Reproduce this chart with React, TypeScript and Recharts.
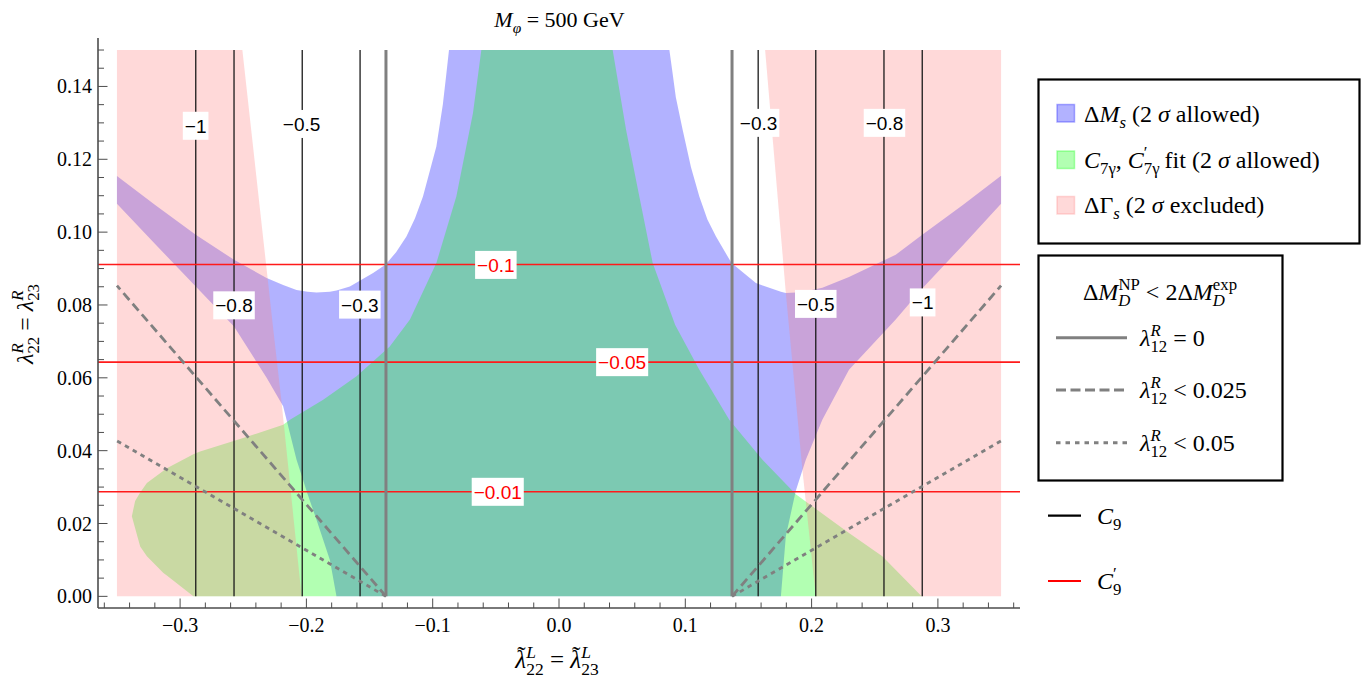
import React from "react";
import { ComposedChart, Area, Line, Scatter, XAxis, YAxis } from "recharts";

const W = 1365;
const H = 680;
const FRAME = "#4d4d4d";
const SERIF = "Liberation Serif, DejaVu Serif, Tinos, FreeSerif, Times New Roman, serif";
const SANS = "Liberation Sans, Arial, sans-serif";

// plot ranges
const xDomain = [-0.365, 0.365];
const yDomain = [-0.0032, 0.1533];
const regionY = [0, 0.15];

// Delta M_s (2 sigma allowed): band between inner and outer curve
const blueX = [
  -0.35, -0.32, -0.2876, -0.2573, -0.2315, -0.2184, -0.2078, -0.199, -0.192, -0.1814, -0.1762,
  -0.1656, -0.1472, -0.1372, -0.129, -0.1208, -0.114, -0.1077, -0.0971, -0.092, -0.0895, -0.0871,
  0.0874, 0.09, 0.0925, 0.0979, 0.1045, 0.1111, 0.1175, 0.1243, 0.1366, 0.1559, 0.1757, 0.1796,
  0.1875, 0.1954, 0.2085, 0.2296, 0.2666, 0.2876, 0.32, 0.35,
];
const blueLo = [
  0.1078, 0.0968, 0.0851, 0.0741, 0.06, 0.0522, 0.0375, 0.028, 0.021, 0.01, 0, 0, 0, 0, 0, 0, 0,
  0, 0, 0, 0, 0, 0, 0, 0, 0, 0, 0, 0, 0, 0, 0, 0, 0.0165, 0.029, 0.0375, 0.0485, 0.0622, 0.076,
  0.0845, 0.0965, 0.1078,
];
const blueHi = [
  0.1154, 0.1075, 0.0993, 0.0924, 0.0874, 0.0855, 0.0841, 0.0836, 0.0834, 0.0836, 0.084, 0.0851,
  0.0888, 0.0911, 0.0945, 0.0988, 0.1038, 0.1098, 0.1235, 0.135, 0.1425, 0.15, 0.15, 0.1435,
  0.137, 0.1281, 0.1178, 0.1098, 0.1035, 0.0988, 0.0915, 0.086, 0.0836, 0.0833, 0.0834, 0.0838,
  0.0847, 0.0877, 0.0938, 0.0993, 0.1075, 0.1155,
];

// C7gamma, C7gamma' fit (2 sigma allowed)
const greenX = [
  -0.3382, -0.3356, -0.3316, -0.3263, -0.3132, -0.3105, -0.2895, -0.2842, -0.2526, -0.2184,
  -0.213, -0.1867, -0.1603, -0.134, -0.118, -0.0971, -0.0813, -0.0681, -0.0615, 0.0425, 0.0531,
  0.0636, 0.0742, 0.092, 0.1111, 0.1348, 0.1611, 0.1875, 0.2296, 0.256, 0.2871,
];
const greenLo = [
  0.022, 0.0187, 0.0137, 0.011, 0.0064, 0.0057, 0, 0, 0, 0, 0, 0, 0, 0, 0, 0, 0, 0, 0, 0, 0, 0,
  0, 0, 0, 0, 0, 0, 0, 0, 0,
];
const greenHi = [
  0.022, 0.0262, 0.0285, 0.0311, 0.0345, 0.0352, 0.039, 0.0398, 0.0432, 0.0471, 0.0485, 0.054,
  0.0604, 0.0686, 0.076, 0.0915, 0.1098, 0.1327, 0.15, 0.15, 0.1281, 0.1098, 0.0915, 0.0745,
  0.0622, 0.0485, 0.0375, 0.028, 0.0174, 0.011, 0,
];

// Delta Gamma_s (2 sigma excluded), left and right pieces
const pinkLX = [-0.35, -0.2507, -0.2262, -0.2196, -0.2038];
const pinkLLo = [0, 0, 0, 0, 0];
const pinkLHi = [0.15, 0.15, 0.0732, 0.0531, 0];
const pinkRX = [0.1632, 0.1796, 0.1927, 0.2033, 0.35];
const pinkRLo = [0.15, 0.0833, 0.0348, 0, 0];
const pinkRHi = [0.15, 0.15, 0.15, 0.15, 0.15];

// C9 contours (vertical)
const c9X = [-0.2876, -0.2573, -0.2033, -0.1575, 0.1577, 0.2033, 0.2573, 0.2876];
const c9LabelX = [-0.2877, -0.2573, -0.2038, -0.1577, 0.158, 0.2577, 0.2033, 0.2879];
const c9LabelY = [0.1292, 0.0799, 0.1297, 0.0801, 0.13, 0.13, 0.0803, 0.0807];
const c9LabelText = ["\u22121", "\u22120.8", "\u22120.5", "\u22120.3", "\u22120.3", "\u22120.8", "\u22120.5", "\u22121"];

// C9' contours (horizontal)
const c9pY = [0.0911, 0.0643, 0.0287];
const c9pLabelX = [-0.05, 0.05, -0.0485];
const c9pLabelY = [0.091, 0.0643, 0.0287];
const c9pLabelText = ["\u22120.1", "\u22120.05", "\u22120.01"];

// Delta M_D bounds
const dmdStartX = [-0.137, 0.137];
const dmdEdgeX = [-0.35, 0.35];
const dashedEndY = 0.0853;
const dottedEndY = 0.0427;

const xTicks = [
  -0.36, -0.34, -0.32, -0.3, -0.28, -0.26, -0.24, -0.22, -0.2, -0.18, -0.16, -0.14, -0.12, -0.1,
  -0.08, -0.06, -0.04, -0.02, 0, 0.02, 0.04, 0.06, 0.08, 0.1, 0.12, 0.14, 0.16, 0.18, 0.2, 0.22,
  0.24, 0.26, 0.28, 0.3, 0.32, 0.34, 0.36,
];
const yTicks = [
  0, 0.005, 0.01, 0.015, 0.02, 0.025, 0.03, 0.035, 0.04, 0.045, 0.05, 0.055, 0.06, 0.065, 0.07,
  0.075, 0.08, 0.085, 0.09, 0.095, 0.1, 0.105, 0.11, 0.115, 0.12, 0.125, 0.13, 0.135, 0.14, 0.145,
  0.15,
];

const blueData = blueX.map((x, i) => ({ x, r: [blueLo[i], blueHi[i]] }));
const greenData = greenX.map((x, i) => ({ x, r: [greenLo[i], greenHi[i]] }));
const pinkLData = pinkLX.map((x, i) => ({ x, r: [pinkLLo[i], pinkLHi[i]] }));
const pinkRData = pinkRX.map((x, i) => ({ x, r: [pinkRLo[i], pinkRHi[i]] }));
const c9Labels = c9LabelX.map((x, i) => ({ x, y: c9LabelY[i], text: c9LabelText[i] }));
const c9pLabels = c9pLabelX.map((x, i) => ({ x, y: c9pLabelY[i], text: c9pLabelText[i] }));

const isMajor = (v: number, k: number) => Math.abs(Math.round(v * k) - v * k) < 1e-6;
const minus = (s: string) => s.replace("-", "\u2212");

// rough glyph widths (em)
const SERIF_W: Record<string, number> = {
  "0": 0.5, "1": 0.5, "2": 0.5, "3": 0.5, "7": 0.5, "9": 0.5, R: 0.61, L: 0.56, D: 0.72,
  N: 0.72, P: 0.56, e: 0.44, x: 0.5, p: 0.5, s: 0.39, "\u2032": 0.28, "\u03b3": 0.45, "\u03c6": 0.55,
};
const SANS_W: Record<string, number> = { "\u2212": 0.584, ".": 0.278 };
function tw(s: string, size: number, table: Record<string, number>, def: number) {
  let w = 0;
  for (const ch of s) w += table[ch] ?? def;
  return w * size;
}

type Seg = {
  t?: string;
  it?: boolean;
  acc?: string;
  sub?: string;
  sup?: string;
  subIt?: boolean;
  supIt?: boolean;
};

function Rich({ x, y, size, segs, anchor = "start", transform }: any) {
  const ss = size * 0.7;
  const subDy = size * 0.27;
  const supDy = size * 0.4;
  const out: any[] = [];
  let cur = 0;
  let pend = 0;
  (segs as Seg[]).forEach((s, i) => {
    if (s.t) {
      out.push(
        <tspan key={i + "t"} fontSize={size} fontStyle={s.it ? "italic" : "normal"} dy={-cur} dx={pend || undefined}>
          {s.t}
        </tspan>
      );
      cur = 0;
      pend = 0;
    }
    if (s.acc) {
      // accent drawn over the previous glyph
      out.push(
        <tspan key={i + "a"} fontSize={size} fontStyle="normal" dx={-0.36 * size} dy={-0.17 * size}>
          {s.acc}
        </tspan>
      );
      cur = -0.17 * size;
      pend = 0.03 * size;
    }
    if (s.sub && s.sup) {
      const wb = tw(s.sub, ss, SERIF_W, 0.5);
      const wp = tw(s.sup, ss, SERIF_W, 0.5);
      out.push(
        <tspan key={i + "b"} fontSize={ss} fontStyle={s.subIt ? "italic" : "normal"} dy={subDy - cur} dx={pend || undefined}>
          {s.sub}
        </tspan>
      );
      out.push(
        <tspan key={i + "p"} fontSize={ss} fontStyle={s.supIt ? "italic" : "normal"} dx={-wb} dy={-supDy - subDy}>
          {s.sup}
        </tspan>
      );
      cur = -supDy;
      pend = Math.max(0, wb - wp);
    } else if (s.sub) {
      out.push(
        <tspan key={i + "b"} fontSize={ss} fontStyle={s.subIt ? "italic" : "normal"} dy={subDy - cur} dx={pend || undefined}>
          {s.sub}
        </tspan>
      );
      cur = subDy;
      pend = 0;
    } else if (s.sup) {
      out.push(
        <tspan key={i + "p"} fontSize={ss} fontStyle={s.supIt ? "italic" : "normal"} dy={-supDy - cur} dx={pend || undefined}>
          {s.sup}
        </tspan>
      );
      cur = -supDy;
      pend = 0;
    }
  });
  return (
    <text x={x} y={y} textAnchor={anchor} fill="#000" transform={transform} style={{ whiteSpace: "pre", fontFamily: SERIF }}>
      {out}
    </text>
  );
}

function BottomTick(p: any) {
  const v = p.payload.value;
  const major = isMajor(v, 10);
  return (
    <g>
      <line x1={p.x} x2={p.x} y1={p.y} y2={p.y - (major ? 9.5 : 5.5)} stroke={FRAME} strokeWidth={1} />
      {major && (
        <text x={p.x} y={p.y + 24} textAnchor="middle" fontSize={20} fill="#000" style={{ fontFamily: SERIF }}>
          {minus(v.toFixed(1))}
        </text>
      )}
    </g>
  );
}
function TopTick(p: any) {
  const major = isMajor(p.payload.value, 10);
  return <line x1={p.x} x2={p.x} y1={p.y} y2={p.y + (major ? 9.5 : 5.5)} stroke={FRAME} strokeWidth={1} />;
}
function LeftTick(p: any) {
  const v = p.payload.value;
  const major = isMajor(v, 50);
  return (
    <g>
      <line x1={p.x} x2={p.x + (major ? 9.5 : 6)} y1={p.y} y2={p.y} stroke={FRAME} strokeWidth={1} />
      {major && (
        <text x={p.x - 6} y={p.y + 7} textAnchor="end" fontSize={20} fill="#000" style={{ fontFamily: SERIF }}>
          {v.toFixed(2)}
        </text>
      )}
    </g>
  );
}
function RightTick(p: any) {
  const major = isMajor(p.payload.value, 50);
  return <line x1={p.x} x2={p.x - (major ? 9.5 : 6)} y1={p.y} y2={p.y} stroke={FRAME} strokeWidth={1} />;
}

function boxLabel(color: string) {
  return (p: any) => {
    const text = p.payload.text;
    const w = tw(text, 19, SANS_W, 0.556) + 4;
    return (
      <g>
        <rect x={p.cx - w / 2} y={p.cy - 14} width={w} height={28} fill="#fff" />
        <text x={p.cx} y={p.cy + 7} textAnchor="middle" fontSize={19} fill={color} style={{ fontFamily: SANS }}>
          {text}
        </text>
      </g>
    );
  };
}

function Overlay() {
  const sw = (y: number, c: string) => (
    <rect x={1057} y={y} width={17.5} height={17.5} fill={c} fillOpacity={0.3} stroke={c} strokeOpacity={0.3} strokeWidth={1.5} />
  );
  const lam12 = { t: "\u03bb", it: true, sub: "12", sup: "R", supIt: true };
  return (
    <svg width={W} height={H} style={{ position: "absolute", left: 0, top: 0, pointerEvents: "none" }}>
      <Rich
        x={559.5}
        y={27}
        size={22}
        segs={[{ t: "M", it: true, sub: "\u03c6", subIt: true }, { t: " = 500 GeV" }]}
        anchor="middle"
      />
      <Rich
        x={557}
        y={668}
        size={25}
        anchor="middle"
        segs={[
          { t: "\u03bb", it: true, acc: "\u02dc", sub: "22", sup: "L", supIt: true },
          { t: " = " },
          { t: "\u03bb", it: true, acc: "\u02dc", sub: "23", sup: "L", supIt: true },
        ]}
      />
      <Rich
        x={0}
        y={0}
        size={24}
        anchor="middle"
        transform="translate(33 324) rotate(-90)"
        segs={[
          { t: "\u03bb", it: true, sub: "22", sup: "R", supIt: true },
          { t: " = " },
          { t: "\u03bb", it: true, sub: "23", sup: "R", supIt: true },
        ]}
      />

      <rect x={1038.5} y={79.5} width={321} height={164} fill="#fff" stroke="#000" strokeWidth={2.2} />
      {sw(104.5, "#0000ff")}
      {sw(151, "#00ff00")}
      {sw(196.5, "#ff8080")}
      <Rich x={1084} y={122} size={24} segs={[{ t: "\u0394" }, { t: "M", it: true, sub: "s", subIt: true }, { t: " (2 " }, { t: "\u03c3", it: true }, { t: " allowed)" }]} />
      <Rich
        x={1084}
        y={168}
        size={24}
        segs={[
          { t: "C", it: true, sub: "7\u03b3" },
          { t: ", " },
          { t: "C", it: true, sub: "7\u03b3", sup: "\u2032" },
          { t: " fit (2 " },
          { t: "\u03c3", it: true },
          { t: " allowed)" },
        ]}
      />
      <Rich x={1084} y={213} size={24} segs={[{ t: "\u0394\u0393", sub: "s", subIt: true }, { t: " (2 " }, { t: "\u03c3", it: true }, { t: " excluded)" }]} />

      <rect x={1038.5} y={255.5} width={244} height={225} fill="#fff" stroke="#000" strokeWidth={2.2} />
      <Rich
        x={1160}
        y={300}
        size={24}
        anchor="middle"
        segs={[
          { t: "\u0394" },
          { t: "M", it: true, sub: "D", subIt: true, sup: "NP" },
          { t: " < 2\u0394" },
          { t: "M", it: true, sub: "D", subIt: true, sup: "exp" },
        ]}
      />
      <line x1={1056} x2={1127} y1={337.7} y2={337.7} stroke="#808080" strokeWidth={3} />
      <line x1={1056} x2={1127} y1={390} y2={390} stroke="#808080" strokeWidth={3} strokeDasharray="10 4.5" />
      <line x1={1056} x2={1127} y1={442.7} y2={442.7} stroke="#808080" strokeWidth={3} strokeDasharray="4.5 5" />
      <Rich x={1140} y={346} size={24} segs={[lam12, { t: " = 0" }]} />
      <Rich x={1140} y={398} size={24} segs={[lam12, { t: " < 0.025" }]} />
      <Rich x={1140} y={451} size={24} segs={[lam12, { t: " < 0.05" }]} />

      <line x1={1048} x2={1081} y1={515.7} y2={515.7} stroke="#000" strokeWidth={2.2} />
      <Rich x={1097} y={524} size={24} segs={[{ t: "C", it: true, sub: "9" }]} />
      <line x1={1048} x2={1081} y1={581} y2={581} stroke="#ff0000" strokeWidth={2.2} />
      <Rich x={1097} y={589} size={24} segs={[{ t: "C", it: true, sub: "9", sup: "\u2032" }]} />
    </svg>
  );
}

export default function App() {
  return (
    <div style={{ position: "absolute", left: 0, top: 0, width: W, height: H, background: "#fff", fontFamily: SERIF }}>
      <ComposedChart width={W} height={H} margin={{ top: 38, right: 345, bottom: 12, left: 38 }}>
        <XAxis
          dataKey="x"
          type="number"
          domain={xDomain}
          allowDataOverflow
          ticks={xTicks}
          interval={0}
          tickSize={0}
          tickMargin={0}
          tickLine={false}
          tick={(p: any) => <BottomTick {...p} />}
          axisLine={{ stroke: FRAME, strokeWidth: 1.6 }}
          height={60}
        />
        <XAxis
          xAxisId="top"
          orientation="top"
          dataKey="x"
          type="number"
          domain={xDomain}
          allowDataOverflow
          ticks={xTicks}
          interval={0}
          tickSize={0}
          tickMargin={0}
          tickLine={false}
          tick={(p: any) => <TopTick {...p} />}
          axisLine={{ stroke: FRAME, strokeWidth: 1.6 }}
          height={0}
        />
        <YAxis
          type="number"
          domain={yDomain}
          allowDataOverflow
          ticks={yTicks}
          interval={0}
          tickSize={0}
          tickMargin={0}
          tickLine={false}
          tick={(p: any) => <LeftTick {...p} />}
          axisLine={{ stroke: FRAME, strokeWidth: 1.6 }}
          width={60}
        />
        <YAxis
          yAxisId="right"
          orientation="right"
          type="number"
          domain={yDomain}
          allowDataOverflow
          ticks={yTicks}
          interval={0}
          tickSize={0}
          tickMargin={0}
          tickLine={false}
          tick={(p: any) => <RightTick {...p} />}
          axisLine={{ stroke: FRAME, strokeWidth: 1.6 }}
          width={0}
        />

        <Area data={blueData} dataKey="r" type="linear" stroke="none" fill="#0000ff" fillOpacity={0.3} isAnimationActive={false} />
        <Area data={greenData} dataKey="r" type="linear" stroke="none" fill="#00ff00" fillOpacity={0.3} isAnimationActive={false} />
        <Area data={pinkLData} dataKey="r" type="linear" stroke="none" fill="#ff8080" fillOpacity={0.3} isAnimationActive={false} />
        <Area data={pinkRData} dataKey="r" type="linear" stroke="none" fill="#ff8080" fillOpacity={0.3} isAnimationActive={false} />

        {c9X.map((x, i) => (
          <Line
            key={"c9" + i}
            data={[{ x, y: regionY[0] }, { x, y: regionY[1] }]}
            dataKey="y"
            stroke="#1a1a1a"
            strokeWidth={1.3}
            dot={false}
            isAnimationActive={false}
          />
        ))}
        {c9pY.map((y, i) => (
          <Line
            key={"c9p" + i}
            data={[{ x: xDomain[0], y }, { x: xDomain[1], y }]}
            dataKey="y"
            stroke="#ff1a1a"
            strokeWidth={1.6}
            dot={false}
            isAnimationActive={false}
          />
        ))}
        {dmdStartX.map((x, i) => (
          <Line
            key={"dmd0" + i}
            data={[{ x, y: regionY[0] }, { x, y: regionY[1] }]}
            dataKey="y"
            stroke="#808080"
            strokeWidth={3}
            dot={false}
            isAnimationActive={false}
          />
        ))}
        {dmdStartX.map((x, i) => (
          <Line
            key={"dmd1" + i}
            data={[{ x, y: regionY[0] }, { x: dmdEdgeX[i], y: dashedEndY }]}
            dataKey="y"
            stroke="#808080"
            strokeWidth={2.8}
            strokeDasharray="9 5"
            dot={false}
            isAnimationActive={false}
          />
        ))}
        {dmdStartX.map((x, i) => (
          <Line
            key={"dmd2" + i}
            data={[{ x, y: regionY[0] }, { x: dmdEdgeX[i], y: dottedEndY }]}
            dataKey="y"
            stroke="#808080"
            strokeWidth={2.8}
            strokeDasharray="4.5 4.5"
            dot={false}
            isAnimationActive={false}
          />
        ))}

        <Scatter data={c9Labels} dataKey="y" shape={boxLabel("#000")} isAnimationActive={false} />
        <Scatter data={c9pLabels} dataKey="y" shape={boxLabel("#ff0000")} isAnimationActive={false} />
      </ComposedChart>
      <Overlay />
    </div>
  );
}
